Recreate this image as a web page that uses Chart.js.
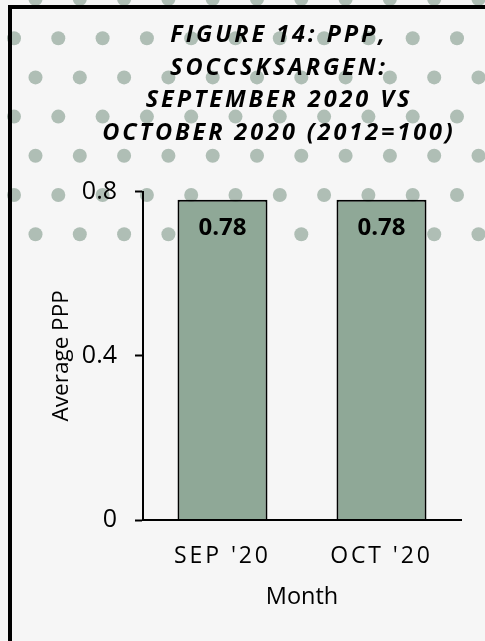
<!DOCTYPE html>
<html>
<head>
<meta charset="utf-8">
<script src="https://cdn.jsdelivr.net/npm/chart.js@4.4.1/dist/chart.umd.min.js"></script>
<style>
  html, body { margin: 0; padding: 0; background: #f6f6f6; overflow: hidden; }
  .chartBox { position: relative; width: 485px; height: 641px; }
</style>
</head>
<body>
<div class="chartBox"><canvas id="myChart" width="485" height="641"></canvas></div>
<script>
const months = ["SEP '20", "OCT '20"];
const averagePPP = [0.78, 0.78];
const yTicks = [0, 0.4, 0.8];
const titleLines = ["FIGURE 14: PPP,", "SOCCSKSARGEN:", "SEPTEMBER 2020 VS", "OCTOBER 2020 (2012=100)"];

const fontFamily = "'Open Sans'";
const barColor = "#8fa897";
const dotColor = "#afbeb5";

// dotted backdrop, frame, letter spacing and the value labels
const backdrop = {
  id: "backdrop",
  beforeDraw(chart) {
    const ctx = chart.ctx;
    ctx.save();
    ctx.fillStyle = "#f6f6f6";
    ctx.fillRect(0, 0, chart.width, chart.height);
    ctx.fillStyle = dotColor;
    for (let row = 0; row < 7; row++) {
      const y = -1 + row * 39.2;
      const x0 = row % 2 === 0 ? 35.5 : 14;
      for (let x = x0; x < chart.width + 10; x += 44.3) {
        ctx.beginPath();
        ctx.arc(x, y, 7, 0, Math.PI * 2);
        ctx.fill();
      }
    }
    ctx.fillStyle = "#000";
    ctx.fillRect(8, 5, chart.width, 4);
    ctx.fillRect(8, 5, 4, chart.height);
    ctx.restore();
    // title and x tick labels are letter-spaced
    ctx.letterSpacing = "2.9px";
  },
  beforeDatasetsDraw(chart) {
    chart.ctx.letterSpacing = "0px";
  },
  afterDatasetsDraw(chart) {
    const ctx = chart.ctx;
    const meta = chart.getDatasetMeta(0);
    ctx.save();
    ctx.font = "bold 24px " + fontFamily;
    ctx.fillStyle = "#000";
    ctx.textAlign = "center";
    ctx.textBaseline = "middle";
    meta.data.forEach((bar, i) => {
      ctx.fillText(averagePPP[i].toFixed(2), bar.x, bar.y + 28);
    });
    ctx.restore();
  },
};

new Chart(document.getElementById("myChart"), {
  type: "bar",
  data: {
    labels: months,
    datasets: [
      {
        label: "Average PPP",
        data: averagePPP,
        backgroundColor: barColor,
        borderColor: "#000",
        borderWidth: 2,
        categoryPercentage: 1,
        barPercentage: 0.566,
      },
    ],
  },
  plugins: [backdrop],
  options: {
    responsive: false,
    animation: false,
    devicePixelRatio: 1,
    layout: { padding: { left: 40, right: -33, top: 0, bottom: 0 } },
    plugins: {
      legend: { display: false },
      tooltip: { enabled: false },
      title: {
        display: true,
        text: titleLines,
        color: "#000",
        font: { family: fontFamily, size: 23.5, weight: "bold", style: "italic", lineHeight: 1.39 },
        padding: { top: 19, bottom: 42 },
      },
    },
    scales: {
      x: {
        grid: { display: false, drawTicks: false, z: 1 },
        border: { display: true, color: "#000", width: 2, z: 1 },
        ticks: {
          color: "#000",
          font: { family: fontFamily, size: 23 },
          padding: 23,
          maxRotation: 0,
          autoSkip: false,
        },
        title: {
          display: true,
          text: "Month",
          color: "#000",
          font: { family: fontFamily, size: 23.5 },
          padding: { top: 0, bottom: 30 },
        },
        afterFit(scale) {
          scale.height = 121;
        },
      },
      y: {
        min: 0,
        max: 0.8,
        afterBuildTicks(scale) {
          scale.ticks = yTicks.map((v) => ({ value: v }));
        },
        grid: { drawOnChartArea: false, drawTicks: true, tickLength: 8, tickColor: "#000", tickWidth: 2, z: 1 },
        border: { color: "#000", width: 2, z: 1 },
        ticks: {
          color: "#000",
          font: { family: fontFamily, size: 25 },
          padding: 18,
          z: 1,
        },
        title: {
          display: true,
          text: "Average PPP",
          color: "#000",
          font: { family: fontFamily, size: 22.5 },
          padding: { top: 8, bottom: 0 },
        },
        afterFit(scale) {
          scale.width = 103;
        },
      },
      y2: {
        position: "right",
        grid: { display: false },
        border: { display: false },
        ticks: { display: false },
        afterFit(scale) {
          scale.width = 57;
        },
      },
    },
  },
});
</script>
</body>
</html>
